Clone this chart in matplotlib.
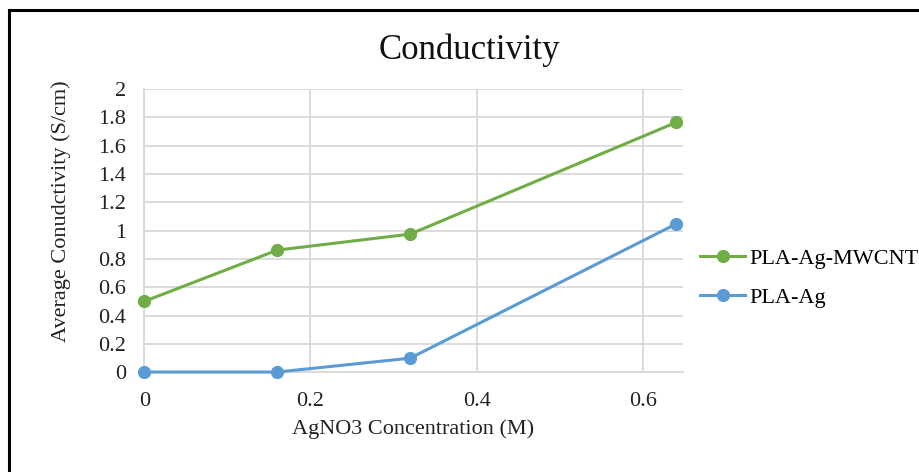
import numpy as np
import matplotlib
matplotlib.use("Agg")
import matplotlib.pyplot as plt
from matplotlib.lines import Line2D

# data
conc = [0.0, 0.16, 0.32, 0.64]
pla_ag_mwcnt = [0.50, 0.862, 0.975, 1.764]
pla_ag = [0.001, 0.001, 0.099, 1.047]

green = '#70AD47'
blue = '#5B9BD5'
grid_col = '#D9D9D9'

plt.rcParams['font.family'] = ['Liberation Serif', 'DejaVu Serif']

fig = plt.figure(figsize=(9.19, 4.72), dpi=100)
ax = fig.add_axes([0.157, 0.2115, 0.586, 0.6])

ax.plot(conc, pla_ag_mwcnt, color=green, linewidth=2.2, marker='o', markersize=8.5,
        label='PLA-Ag-MWCNT', zorder=4, clip_on=False)
ax.plot(conc, pla_ag, color=blue, linewidth=2.2, marker='o', markersize=8.5,
        label='PLA-Ag', zorder=4, clip_on=False)

ax.set_xlim(0, 0.648)
ax.set_ylim(0, 2)
ax.set_xticks([0, 0.2, 0.4, 0.6])
ax.set_xticklabels(['0', '0.2', '0.4', '0.6'])
ax.set_yticks(np.arange(0, 2.01, 0.2))
ax.set_yticklabels(['0', '0.2', '0.4', '0.6', '0.8', '1', '1.2', '1.4', '1.6', '1.8', '2'])
ax.tick_params(axis='both', length=0, labelsize=16, colors='#222222')
ax.tick_params(axis='y', pad=13)
ax.tick_params(axis='x', pad=14)

ax.grid(True, color=grid_col, linewidth=1.3)
ax.set_axisbelow(True)
for side in ['top', 'right']:
    ax.spines[side].set_visible(False)
for side in ['left', 'bottom']:
    ax.spines[side].set_color(grid_col)
    ax.spines[side].set_linewidth(1.3)
    ax.spines[side].set_zorder(1)

ax.set_xlabel('AgNO3 Concentration (M)', fontsize=16, color='#222222', labelpad=6)
ax.set_ylabel('Average Conudctivity (S/cm)', fontsize=16, color='#222222')
ax.yaxis.set_label_coords(-0.137, 0.567)

fig.text(0.511, 0.857, 'Conductivity', fontsize=25, ha='center', va='bottom', color='#111111')

ax.legend(loc='center left', bbox_to_anchor=(0.762, 0.411), bbox_transform=fig.transFigure,
          frameon=False, fontsize=16, handlelength=2.0, handletextpad=0.2, labelspacing=0.85,
          borderaxespad=0, borderpad=0)

# figure frame (left and top edges visible in the source)
fig.add_artist(Line2D([0.0098, 0.0098], [0.0, 0.978], transform=fig.transFigure, color='black', linewidth=2.2))
fig.add_artist(Line2D([0.0098, 1.0], [0.978, 0.978], transform=fig.transFigure, color='black', linewidth=2.2))

fig.savefig('out.png', dpi=100)
